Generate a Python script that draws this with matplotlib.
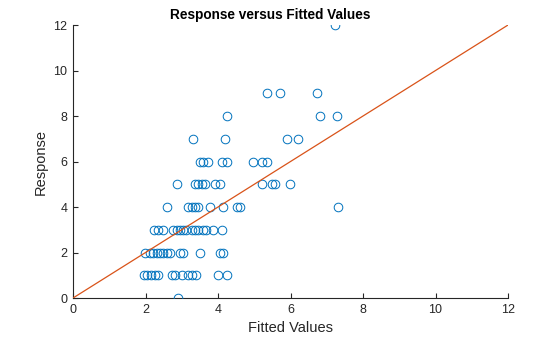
import matplotlib
matplotlib.use("Agg")
import matplotlib.pyplot as plt
import numpy as np

plt.rcParams['font.family'] = ['Liberation Sans', 'DejaVu Sans']

fitted = [
    # response 0
    2.90,
    # response 1
    1.95, 2.05, 2.15, 2.25, 2.35, 2.72, 2.81, 3.00, 3.17, 3.27, 3.40, 4.01, 4.24,
    # response 2
    1.99, 2.12, 2.21, 2.31, 2.40, 2.49, 2.58, 2.68, 2.95, 3.04, 3.50, 4.06, 4.15,
    # response 3
    2.22, 2.35, 2.49, 2.77, 2.86, 2.95, 3.04, 3.13, 3.27, 3.36, 3.45, 3.59, 3.68, 3.87, 4.10,
    # response 4
    2.58, 3.18, 3.27, 3.36, 3.46, 3.78, 4.15, 4.52, 4.61, 7.30,
    # response 5
    2.86, 3.37, 3.46, 3.55, 3.64, 3.92, 4.06, 5.21, 5.48, 5.57, 5.99,
    # response 6
    3.50, 3.59, 3.73, 4.10, 4.24, 4.97, 5.21, 5.35,
    # response 7
    3.32, 4.19, 5.90, 6.21,
    # response 8
    4.24, 6.81, 7.27,
    # response 9
    5.34, 5.71, 6.74,
    # response 12
    7.23,
]
response = ([0] + [1] * 13 + [2] * 13 + [3] * 15 + [4] * 10 + [5] * 11
            + [6] * 8 + [7] * 4 + [8] * 3 + [9] * 3 + [12])

ref_line = [0, 12]
ticks = [0, 2, 4, 6, 8, 10, 12]

fig = plt.figure(figsize=(5.6, 3.37), dpi=100)
ax = fig.add_axes([0.1304, 0.1157, 0.7768, 0.8101])

ax.plot(fitted, response, linestyle='none', marker='o', markersize=6.2,
        markerfacecolor='none', markeredgecolor='#0072BD', markeredgewidth=0.7)
ax.plot(ref_line, ref_line, color='#D95319', linewidth=0.9)

ax.set_xlim(0, 12)
ax.set_ylim(0, 12)
ax.set_xticks(ticks)
ax.set_yticks(ticks)
for s in ['top', 'right']:
    ax.spines[s].set_visible(False)
for s in ['left', 'bottom']:
    ax.spines[s].set_color('#262626')
    ax.spines[s].set_linewidth(0.8)
ax.tick_params(direction='in', length=3.5, width=0.8, colors='#262626',
               labelsize=9, pad=4)

fig.text(270 / 560, 1 - 15 / 337, 'Response versus Fitted Values', fontsize=9.8,
         fontweight='bold', color='#000000', ha='center', va='center')
ax.set_xlabel('Fitted Values', fontsize=10.5, color='#262626', labelpad=4)
ax.set_ylabel('Response', fontsize=10.5, color='#262626', labelpad=4)

for sp in ax.spines.values():
    sp.set_zorder(0)

fig.savefig('out.png', dpi=100)
